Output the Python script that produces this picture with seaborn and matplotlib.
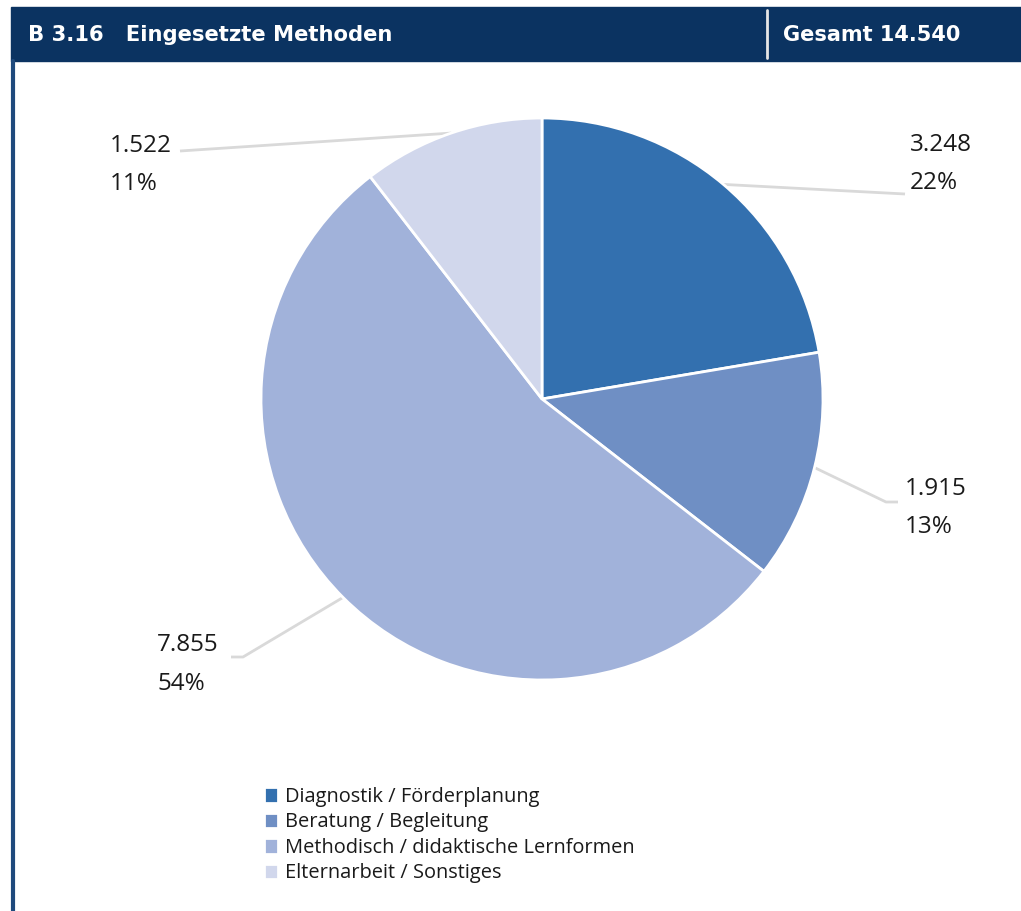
import numpy as np
import seaborn as sns
import matplotlib.pyplot as plt
from matplotlib.patches import Rectangle

sns.set_theme(style='white')
plt.rcParams['font.family'] = ['Open Sans', 'DejaVu Sans']

# data
categories = ['Diagnostik / Förderplanung', 'Beratung / Begleitung',
              'Methodisch / didaktische Lernformen', 'Elternarbeit / Sonstiges']
values = [3248, 1915, 7855, 1522]
pct_labels = [22, 13, 54, 11]
colors = ['#3370AF', '#6F8FC4', '#A1B2DA', '#D1D7EC']

title = 'B 3.16   Eingesetzte Methoden'

# layout in pixels (origin top-left)
W, H = 1021, 911
cx, cy, r = 542, 399, 281
navy = '#0B3361'
# leader line ends (elbow, end) and label baselines
leader_ends = [[(905, 194)], [(886, 502), (898, 502)],
               [(243, 657), (231, 657)], [(180, 151)]]
label_pos = [(910, 151, 189), (905, 495, 533), (157, 651, 690), (110, 152, 190)]

def fy(y):
    return H - y

def de(n):
    return f'{n:,}'.replace(',', '.')

fig = plt.figure(figsize=(W / 100, H / 100), dpi=100)
ax = fig.add_axes([0, 0, 1, 1])

wedges, _ = ax.pie(values, colors=colors, startangle=90, counterclock=False,
                   center=(cx, fy(cy)), radius=r,
                   wedgeprops=dict(edgecolor='white', linewidth=2))
ax.set_xlim(0, W)
ax.set_ylim(0, H)
ax.set_aspect('auto')
ax.axis('off')

# leader lines and value labels
for w, ends, (lx, y1, y2), v, p in zip(wedges, leader_ends, label_pos, values, pct_labels):
    mid = np.deg2rad((w.theta1 + w.theta2) / 2)
    pts = [(cx + r * np.cos(mid), fy(cy) + r * np.sin(mid))]
    pts += [(x, fy(y)) for x, y in ends]
    xs, ys = zip(*pts)
    ax.plot(xs, ys, color='#D9D9D9', lw=2, solid_capstyle='butt', zorder=0)
    ax.text(lx, fy(y1), de(v), fontsize=17.5, color='#1A1A1A', va='baseline', ha='left')
    ax.text(lx, fy(y2), f'{p}%', fontsize=17.5, color='#1A1A1A', va='baseline', ha='left')

# header bar
ax.add_patch(Rectangle((11, fy(61)), W - 11, 54, color=navy, zorder=5, clip_on=False))
ax.plot([767, 767], [fy(10), fy(58)], color='#E6E6E6', lw=2, zorder=6)
ax.text(28, fy(35), title, color='white', fontsize=15.2, fontweight='bold',
        family='DejaVu Sans', va='center', ha='left', zorder=7)
ax.text(783, fy(35), 'Gesamt ' + de(sum(values)), color='white', fontsize=15,
        fontweight='bold', family='DejaVu Sans', va='center', ha='left', zorder=7)
# left border
ax.plot([12.5, 12.5], [fy(61), 0], color='#1F4A7D', lw=3, zorder=5)

ax.legend(wedges, categories, loc='upper left', bbox_to_anchor=(264 / W, 1 - 787 / H),
          bbox_transform=fig.transFigure, frameon=False, fontsize=14.4,
          handlelength=0.72, handleheight=0.8, handletextpad=0.32,
          labelspacing=0.27, borderpad=0, borderaxespad=0,
          labelcolor='#1A1A1A')

fig.savefig('out.png', dpi=100, facecolor='white')
